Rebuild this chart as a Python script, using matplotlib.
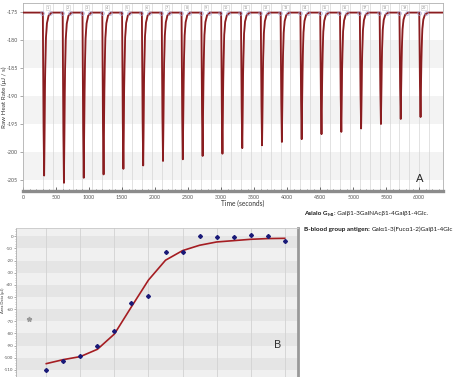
import numpy as np
import matplotlib
matplotlib.use('Agg')
import matplotlib.pyplot as plt

plt.rcParams['axes.unicode_minus'] = False
plt.rcParams['font.family'] = ['Lato', 'DejaVu Sans']

# panel A: injections and peak minima of the raw heat rate (uJ/s)
inj_times = [300, 600, 900, 1200, 1500, 1800, 2100, 2400, 2700, 3000,
             3300, 3600, 3900, 4200, 4500, 4800, 5100, 5400, 5700, 6000]
peak_min = [-204.2, -205.5, -204.6, -204.0, -203.0, -202.4, -201.6, -201.3, -200.7, -200.3,
            -199.3, -198.8, -198.2, -197.7, -196.8, -196.4, -195.8, -195.0, -194.1, -193.75]
baseline = -175.1
# shape of one injection peak (seconds after injection, fraction of depth)
shape_t = [0, 8, 20, 26, 34, 45, 60, 85, 130]
shape_f = [0, 0.6, 1.0, 0.7, 0.4, 0.17, 0.07, 0.02, 0]

# panel B: integrated areas (uJ) per injection and fitted curve
inj_no = [2, 3, 4, 5, 6, 7, 8, 9, 10, 11, 12, 13, 14, 15, 16]
area = [-110, -102.3, -98.2, -90.5, -78.2, -54.9, -49.4, -12.7, -13.2, 0,
        -0.8, -0.8, 1.3, 0.5, -4.1]
area_fit = [-104.8, -101.5, -99, -93, -80.4, -58, -36, -19.7, -11.8, -7.4,
            -4.7, -3.6, -2.5, -1.9, -1.7]
excl_no = [1]
excl_area = [-68.3]

W, H = 456, 377
fig = plt.figure(figsize=(W / 100, H / 100), dpi=100)
fig.patch.set_facecolor('white')

def fx(px):
    return px / W

def fy(py):
    return 1 - py / H

# ---------------- panel A ----------------
axA = fig.add_axes([fx(23), fy(191), fx(443 - 23), fy(3) - fy(191)])
t = np.arange(0, 6360, 1.0)
trace = np.full_like(t, baseline)
for ti, pm in zip(inj_times, peak_min):
    trace += (pm - baseline) * np.interp(t - ti, shape_t, shape_f, left=0, right=0)

axA.set_xlim(0, 6360)
axA.set_ylim(-206.96, -173.39)
bandsA = [(-185, -180), (-195, -190), (-205, -200)]
for lo, hi in bandsA:
    axA.axhspan(lo, hi, color='#f3f3f3', lw=0, zorder=0)
for ti in inj_times:
    axA.axvline(ti, color='#d6d6d6', lw=0.5, zorder=1)
    axA.axvline(ti + 150, color='#d6d6d6', lw=0.5, zorder=1)
for i, ti in enumerate(inj_times):
    axA.text(ti + 75, -174.2, str(i + 1), fontsize=2.6, color='#888888', ha='center', va='center',
             bbox=dict(boxstyle='square,pad=0.25', fc='white', ec='#cccccc', lw=0.4), zorder=3)

axA.plot(t + 5, trace, color='#eab0b0', lw=0.8, zorder=2)
axA.plot(t, trace, color='#8a1d20', lw=1.3, zorder=3)
axA.plot(np.array(inj_times) - 10, [baseline] * len(inj_times), 'o', ms=2.6, mfc='none',
         mec='#a4a4d6', mew=0.5, zorder=4)
axA.plot(np.array(inj_times) + 110, [baseline] * len(inj_times), 'o', ms=2.6, mfc='none',
         mec='#a4a4d6', mew=0.5, zorder=4)

axA.set_xticks(range(0, 6001, 500))
axA.set_xticks(range(0, 6301, 100), minor=True)
axA.set_yticks(range(-175, -206, -5))
axA.tick_params(axis='x', which='major', direction='in', length=3, width=0.6, color='#555555',
                labelsize=3.8, labelcolor='#555555', pad=3)
axA.tick_params(axis='x', which='minor', direction='in', length=1.6, width=0.5, color='#555555')
axA.tick_params(axis='y', which='major', direction='out', length=2, width=0.5, color='#888888',
                labelsize=3.8, labelcolor='#555555', pad=1.5)
for s in ['top', 'right', 'left']:
    axA.spines[s].set_color('#b0b0b0')
    axA.spines[s].set_linewidth(0.6)
axA.spines['bottom'].set_color('#8c8c8c')
axA.spines['bottom'].set_linewidth(2.4)
axA.set_ylabel('Raw Heat Rate (μJ / s)', fontsize=4.5, color='#333333')
axA.yaxis.set_label_coords(-0.038, 0.5)
fig.text(fx(243), fy(203), 'Time (seconds)', fontsize=4.8, color='#333333', ha='center', va='center')
axA.text(6010, -204.7, 'A', fontsize=8, color='#222222', ha='center', va='center')

# ---------------- panel B ----------------
axB = fig.add_axes([fx(16), 0, fx(298 - 16), fy(228)])
axB.set_xlim(0.22, 16.78)
axB.set_ylim(-115.8, 6.8)
axB.set_facecolor('#f0f0f0')
for k in range(12):
    if k % 2 == 0:
        axB.axhspan(-10 * (k + 1), -10 * k, color='#e5e5e5', lw=0, zorder=0)
for xv in range(2, 17, 2):
    axB.axvline(xv, color='#d2d2d2', lw=0.6, zorder=1)

axB.plot(inj_no, area_fit, color='#a51d22', lw=1.2, zorder=3)
axB.plot(inj_no, area, 'D', color='#1a1a78', ms=2.0, zorder=4)
axB.plot(excl_no, excl_area, '*', color='#999999', ms=3.5, zorder=4)

axB.set_xticks([])
axB.set_yticks(range(0, -111, -10))
axB.set_yticks(range(6, -116, -2), minor=True)
axB.tick_params(axis='y', which='major', direction='out', length=1.6, width=0.5, color='#888888',
                labelsize=3.2, labelcolor='#555555', pad=0.6)
axB.tick_params(axis='y', which='minor', direction='out', length=0.9, width=0.4, color='#999999')
axB.spines['top'].set_color('#c8c8c8')
axB.spines['top'].set_linewidth(0.6)
axB.spines['left'].set_color('#b0b0b0')
axB.spines['left'].set_linewidth(0.6)
axB.spines['right'].set_color('#999999')
axB.spines['right'].set_linewidth(2.0)
axB.spines['bottom'].set_visible(False)
fig.text(fx(3.4), fy(300), 'Area Data (μJ)', fontsize=3.0, color='#333333',
         rotation=90, ha='center', va='center')
axB.text(15.6, -89, 'B', fontsize=8, color='#333333', ha='center', va='center')

# ---------------- annotation text ----------------
fig.canvas.draw()
rend = fig.canvas.get_renderer()

def write_parts(x0, y0, parts):
    x = x0
    for txt, weight, dy, size in parts:
        tt = fig.text(fx(x), fy(y0 + dy), txt, fontsize=size, fontweight=weight,
                      color='#1a1a1a', ha='left', va='baseline')
        x += tt.get_window_extent(renderer=rend).width

write_parts(304, 215, [('Asialo G', 'bold', 0, 4.6), ('M1', 'bold', 1.5, 3.2),
                       (': Galβ1-3GalNAcβ1-4Galβ1-4Glc.', 'normal', 0, 4.6)])
write_parts(304, 231, [('B-blood group antigen: ', 'bold', 0, 4.6),
                       ('Galα1-3(Fucα1-2)Galβ1-4Glc', 'normal', 0, 4.6)])

fig.savefig('out.png', dpi=100)
